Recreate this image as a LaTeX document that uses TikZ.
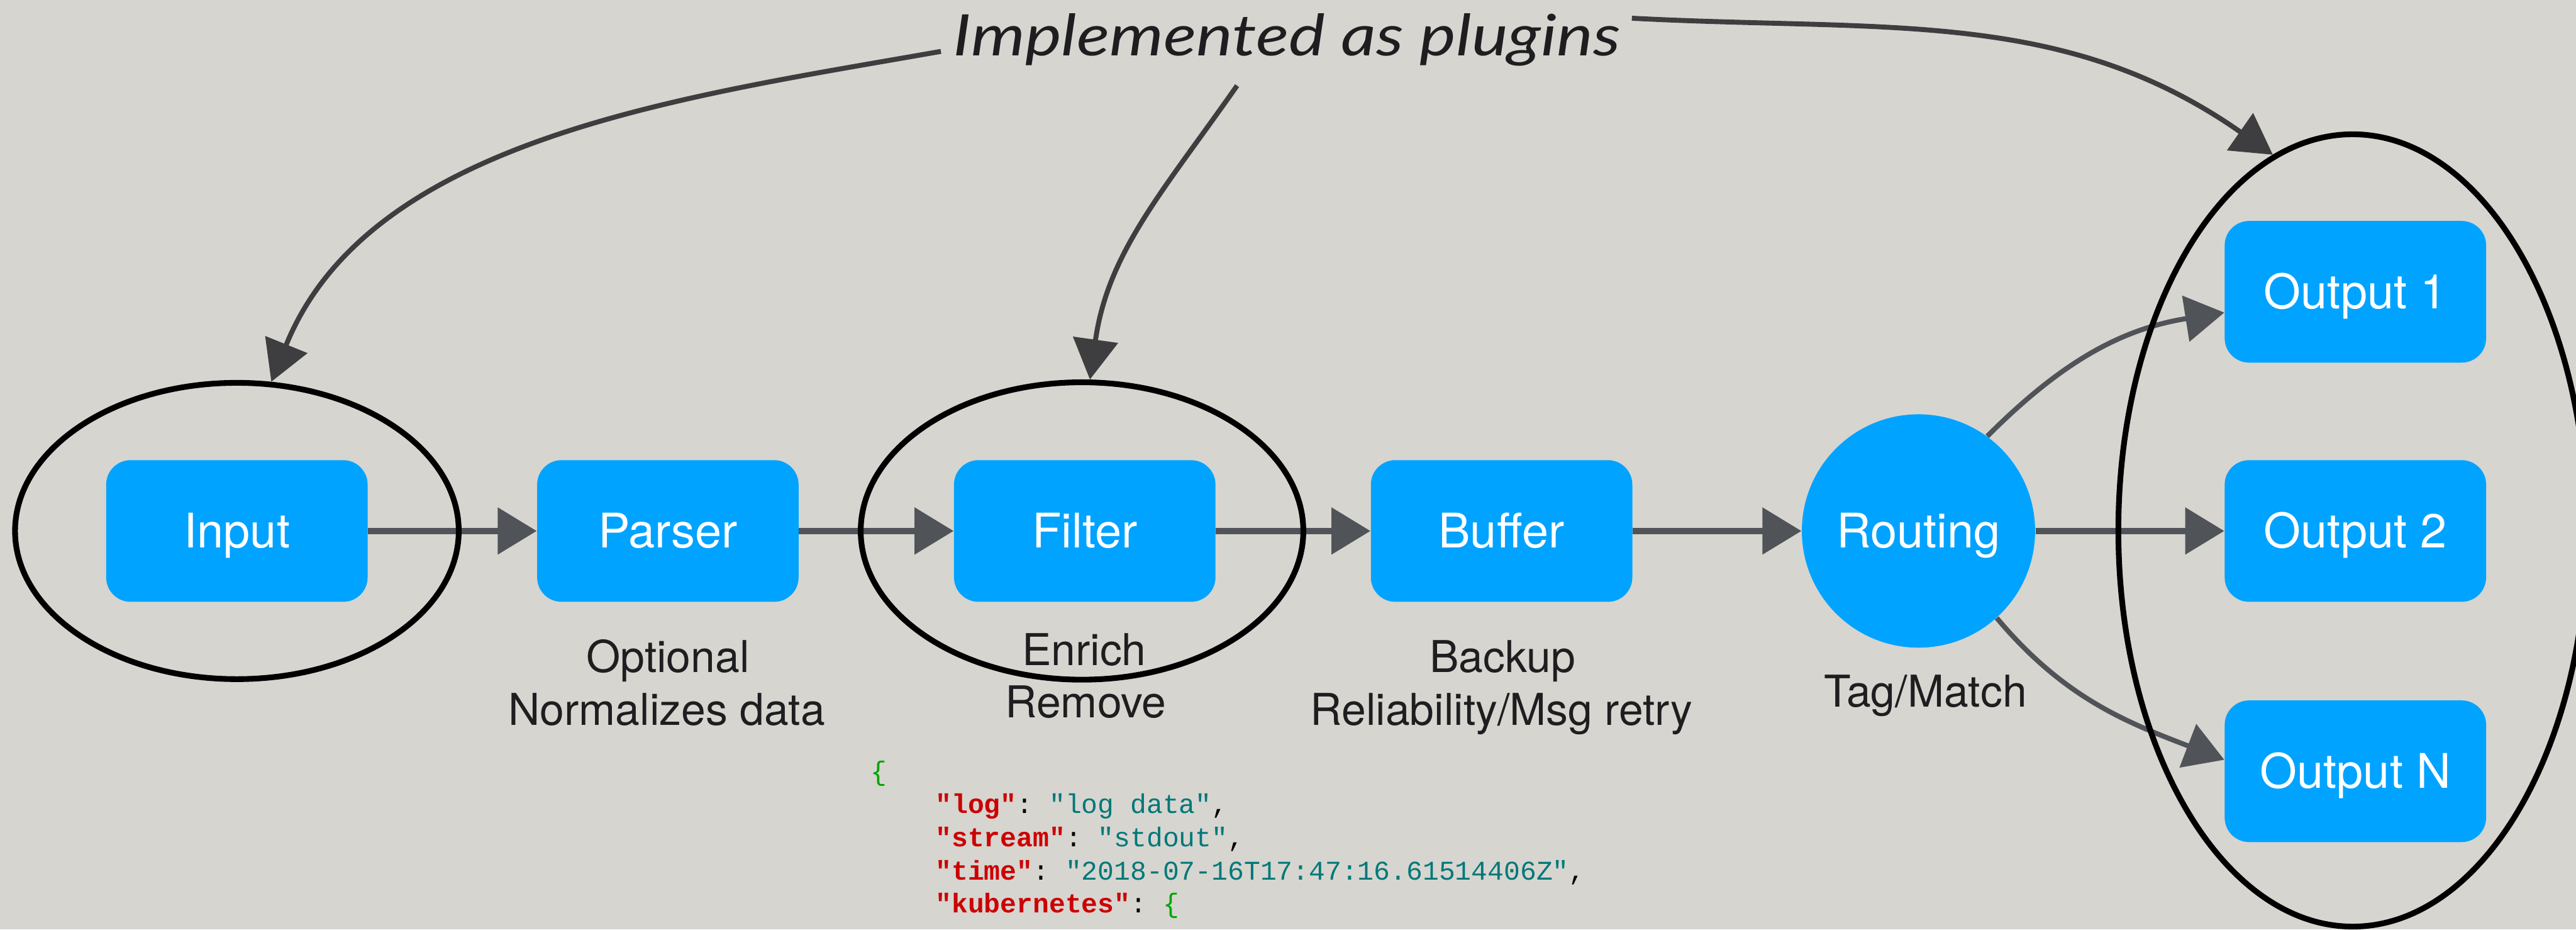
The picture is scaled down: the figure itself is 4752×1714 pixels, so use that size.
\documentclass[tikz,border=0pt]{standalone}
\usepackage{fontspec}
\setmainfont{TeX Gyre Heros}
\setmonofont{Liberation Mono}
\newfontfamily\handfont{Lato}[FakeStretch=1.2]
\usetikzlibrary{arrows.meta,shapes.geometric}

\definecolor{paper}{RGB}{214,213,208}
\definecolor{stageblue}{RGB}{0,163,255}
\definecolor{arrowgray}{RGB}{80,83,88}
\definecolor{penink}{RGB}{62,62,64}
\definecolor{notegray}{RGB}{30,30,32}
\definecolor{jsonbrace}{RGB}{0,165,0}
\definecolor{jsonkey}{RGB}{204,0,0}
\definecolor{jsonval}{RGB}{0,120,120}

\pgfdeclarelayer{paperlayer}
\pgfdeclarelayer{inklayer}
\pgfsetlayers{paperlayer,inklayer,main}

% json snippet helpers
\newcommand\jkey[1]{\textcolor{jsonkey}{\bfseries"#1"}}
\newcommand\jval[1]{\textcolor{jsonval}{"#1"}}
\newcommand\jbrace{\textcolor{jsonbrace}{\{}}

\begin{document}
\begin{tikzpicture}[x=0.01cm, y=0.01cm,
    stage/.style={rectangle, rounded corners=0.45cm, fill=stageblue, text=white,
        minimum width=4.82cm, minimum height=2.61cm, text height=0.62cm, text depth=0pt,
        font=\fontsize{25}{30}\selectfont},
    hub/.style={circle, fill=stageblue, text=white, minimum size=4.3cm, inner sep=0pt,
        text height=0.62cm, text depth=0pt, font=\fontsize{25}{30}\selectfont},
    note/.style={anchor=base, inner sep=0pt, text=notegray, font=\fontsize{23}{28}\selectfont},
    ring/.style={ellipse, draw=black, line width=3pt, inner sep=0pt},
    flow/.style={draw=arrowgray, line width=3.4pt, -{Triangle[length=0.72cm, width=0.84cm]}},
    pointer/.style={draw=penink, line width=2.6pt, -{Triangle[length=0.74cm, width=0.82cm]}},
    title/.style={anchor=base, inner sep=0pt, text=notegray,
        font=\handfont\itshape\fontsize{30}{34}\selectfont},
    json/.style={anchor=base west, inner sep=0pt, font=\ttfamily\fontsize{14.2}{17}\selectfont}]

    % Paper
    \begin{pgfonlayer}{paperlayer}
        \fill[paper] (0,0) rectangle (4752,1714);
    \end{pgfonlayer}
    \useasboundingbox (0,0) rectangle (4752,1714);

    % Pipeline stages
    \node[stage] (input)   at (437,735)   {Input};
    \node[stage] (parser)  at (1232,735)  {Parser};
    \node[stage] (filter)  at (2001,735)  {Filter};
    \node[stage] (buffer)  at (2770,735)  {Buffer};
    \node[hub]   (routing) at (3539,735)  {Routing};
    \node[stage] (out1)    at (4345,1176) {Output 1};
    \node[stage] (out2)    at (4345,735)  {Output 2};
    \node[stage] (outN)    at (4345,292)  {Output N};

    % Notes under the stages
    \node[note] (parsernote1) at (1232,474) {Optional};
    \node[note] (parsernote2) at (1230,377) {Normalizes data};
    \node[note] (filternote1) at (2000,487) {Enrich};
    \node[note] (filternote2) at (2003,391) {Remove};
    \node[note] (buffernote1) at (2772,474) {Backup};
    \node[note] (buffernote2) at (2770,377) {Reliability/Msg retry};
    \node[note] (routingnote) at (3552,411) {Tag/Match};

    % Rings round the plugin stages
    \node[ring, minimum width=8.18cm, minimum height=5.46cm] (inputring)  at (437,735)  {};
    \node[ring, minimum width=8.16cm, minimum height=5.48cm] (filterring) at (1996,735) {};
    \node[ring, minimum width=8.64cm, minimum height=14.6cm] (outring)    at (4340,736) {};

    % Title
    \node[title] (plugins) at (2374,1611) {Implemented as plugins};

    % Record sample
    \node[json] (json0) at (1605,275) {\jbrace};
    \node[json] (json1) at (1725,214) {\jkey{log}: \jval{log data},};
    \node[json] (json2) at (1725,153) {\jkey{stream}: \jval{stdout},};
    \node[json] (json3) at (1725,92)  {\jkey{time}: \jval{2018-07-16T17:47:16.61514406Z},};
    \node[json] (json4) at (1725,31)  {\jkey{kubernetes}: \jbrace};

    % Data flow
    \begin{pgfonlayer}{inklayer}
        \draw[flow] (input) -- (parser);
        \draw[flow] (parser) -- (filter);
        \draw[flow] (filter) -- (buffer);
        \draw[flow] (buffer) -- (routing);
        \draw[flow] (routing) -- (out2);
        \draw[flow, line width=2.6pt] (routing.54) to[out=45, in=189] (out1.189);
        \draw[flow, line width=2.6pt] (routing.-48) to[out=-50, in=159] (outN.175);

        % Pointers from the title
        \draw[pointer] ([shift={(-22,-21)}]plugins.west) to[out=190, in=68, looseness=0.9] (inputring.77);
        \draw[pointer] ([shift={(-92,-35)}]plugins.south) to[out=235, in=82] (filterring.87);
        \draw[pointer] ([shift={(20,-9)}]plugins.north east) to[out=-3, in=145] (outring.102);
    \end{pgfonlayer}
\end{tikzpicture}
\end{document}
